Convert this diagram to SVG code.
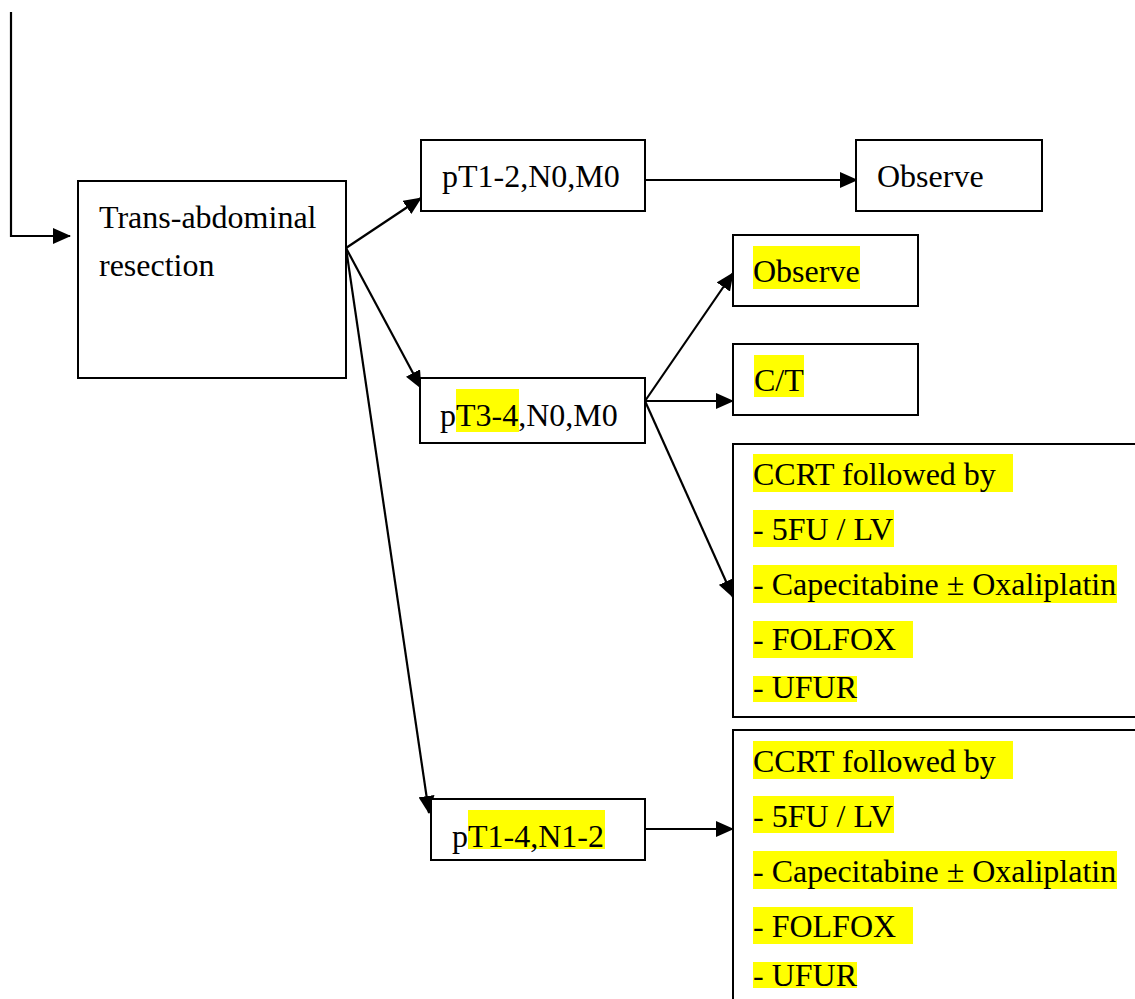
<svg xmlns="http://www.w3.org/2000/svg" width="1135" height="999" viewBox="0 0 1135 999">
  <style>
    .box { fill: #ffffff; stroke: #000000; stroke-width: 2; }
    .lbl { font-family: "Liberation Serif", "Times New Roman", serif; font-size: 32px; fill: #000000; }
    .hl { fill: #ffff00; }
    .edge { fill: none; stroke: #000000; stroke-width: 2.2; marker-end: url(#arrow); }
  </style>
  <defs>
    <marker id="arrow" markerUnits="userSpaceOnUse" markerWidth="18" markerHeight="16" refX="17" refY="8" orient="auto">
      <path d="M0,0 L18,8 L0,16 Z" fill="#000000"/>
    </marker>
  </defs>

  <!-- connectors -->
  <g id="connectors">
    <polyline class="edge" points="11,12 11,236 70,236"/>
    <line class="edge" x1="346" y1="248" x2="421" y2="198"/>
    <line class="edge" x1="346" y1="248" x2="421" y2="388"/>
    <line class="edge" x1="346" y1="248" x2="429" y2="813"/>
    <line class="edge" x1="645" y1="180" x2="857" y2="180"/>
    <line class="edge" x1="645" y1="401" x2="733" y2="273"/>
    <line class="edge" x1="645" y1="401" x2="733" y2="401"/>
    <line class="edge" x1="645" y1="401" x2="733" y2="597"/>
    <line class="edge" x1="645" y1="829" x2="733" y2="829"/>
  </g>

  <!-- resection -->
  <g id="node-resection">
    <rect class="box" x="78" y="181" width="268" height="197"/>
    <text class="lbl" x="99" y="228">Trans-abdominal</text>
    <text class="lbl" x="99" y="276">resection</text>
  </g>

  <!-- stage pT1-2 N0 M0 -->
  <g id="node-pT12">
    <rect class="box" x="421" y="140" width="224" height="71"/>
    <text class="lbl" x="442" y="187">pT1-2,N0,M0</text>
  </g>

  <g id="node-observe1">
    <rect class="box" x="856" y="140" width="186" height="71"/>
    <text class="lbl" x="877" y="187">Observe</text>
  </g>

  <!-- stage pT3-4 N0 M0 -->
  <g id="node-pT34">
    <rect class="box" x="420" y="378" width="225" height="65"/>
    <rect class="hl" x="456" y="389" width="63" height="43"/>
    <text class="lbl" x="440" y="426">pT3-4,N0,M0</text>
  </g>

  <g id="node-observe2">
    <rect class="box" x="733" y="235" width="185" height="71"/>
    <rect class="hl" x="753" y="246" width="107" height="43"/>
    <text class="lbl" x="753" y="282">Observe</text>
  </g>

  <g id="node-ct">
    <rect class="box" x="733" y="344" width="185" height="71"/>
    <rect class="hl" x="754" y="355" width="50" height="42"/>
    <text class="lbl" x="754" y="391">C/T</text>
  </g>

  <g id="node-ccrt1">
    <rect class="box" x="733" y="444" width="410" height="273"/>
    <rect class="hl" x="753" y="454" width="260" height="38"/>
    <rect class="hl" x="753" y="510" width="141" height="37"/>
    <rect class="hl" x="753" y="565" width="364" height="38"/>
    <rect class="hl" x="753" y="621" width="160" height="37"/>
    <rect class="hl" x="753" y="676" width="104" height="26"/>
    <text class="lbl" x="753" y="485">CCRT followed by</text>
    <text class="lbl" x="753" y="540">- 5FU / LV</text>
    <text class="lbl" x="753" y="595">- Capecitabine ± Oxaliplatin</text>
    <text class="lbl" x="753" y="650">- FOLFOX</text>
    <text class="lbl" x="753" y="698">- UFUR</text>
  </g>

  <!-- stage pT1-4 N1-2 -->
  <g id="node-pT14N12">
    <rect class="box" x="431" y="799" width="214" height="61"/>
    <rect class="hl" x="468" y="810" width="137" height="39"/>
    <text class="lbl" x="452" y="847">pT1-4,N1-2</text>
  </g>

  <g id="node-ccrt2">
    <rect class="box" x="733" y="730" width="410" height="280"/>
    <rect class="hl" x="753" y="741" width="260" height="38"/>
    <rect class="hl" x="753" y="796" width="141" height="37"/>
    <rect class="hl" x="753" y="851" width="364" height="38"/>
    <rect class="hl" x="753" y="907" width="160" height="37"/>
    <rect class="hl" x="753" y="962" width="104" height="26"/>
    <text class="lbl" x="753" y="772">CCRT followed by</text>
    <text class="lbl" x="753" y="827">- 5FU / LV</text>
    <text class="lbl" x="753" y="882">- Capecitabine ± Oxaliplatin</text>
    <text class="lbl" x="753" y="937">- FOLFOX</text>
    <text class="lbl" x="753" y="986">- UFUR</text>
  </g>
</svg>
